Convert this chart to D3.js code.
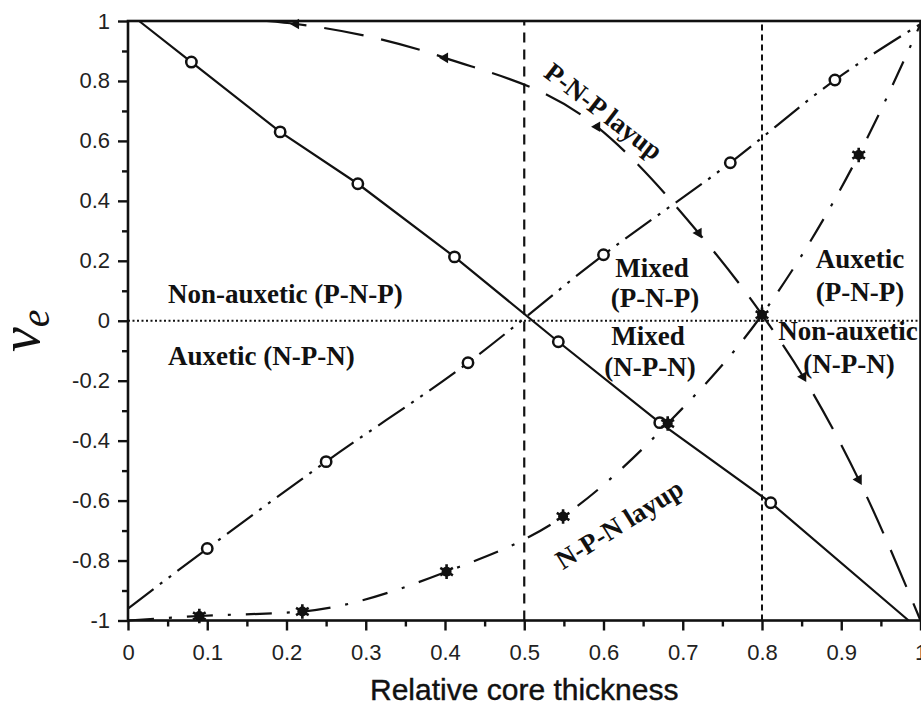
<!DOCTYPE html>
<html>
<head>
<meta charset="utf-8">
<script src="https://cdn.jsdelivr.net/npm/d3@7/dist/d3.min.js"></script>
<style>
    body { margin: 0; background: #fff; }
    svg { display: block; }
    .tick text { font-family: "Liberation Sans", Arial, sans-serif; font-size: 22px; fill: #222; }
    .domain { display: none; }
    .lbl { font-family: "Liberation Serif", "Times New Roman", serif; font-weight: bold; font-size: 27px; fill: #111; }
</style>
</head>
<body>
<svg id="chart" width="921" height="711"></svg>
<script>
// tick values / labels
var xTickValues = [0, 0.1, 0.2, 0.3, 0.4, 0.5, 0.6, 0.7, 0.8, 0.9, 1];
var xTickLabels = ["0", "0.1", "0.2", "0.3", "0.4", "0.5", "0.6", "0.7", "0.8", "0.9", "1"];
var xMinorTicks = [0.05, 0.15, 0.25, 0.35, 0.45, 0.55, 0.65, 0.75, 0.85, 0.95];
var yTickValues = [-1, -0.8, -0.6, -0.4, -0.2, 0, 0.2, 0.4, 0.6, 0.8, 1];
var yTickLabels = ["-1", "-0.8", "-0.6", "-0.4", "-0.2", "0", "0.2", "0.4", "0.6", "0.8", "1"];
var yMinorTicks = [-0.9, -0.7, -0.5, -0.3, -0.1, 0.1, 0.3, 0.5, 0.7, 0.9];

// solid line, open circles
var linearX = [0.014, 0.08, 0.192, 0.29, 0.412, 0.543, 0.671, 0.811, 0.985];
var linearY = [1, 0.863, 0.63, 0.457, 0.213, -0.07, -0.34, -0.607, -1];
var linearMarks = [1, 2, 3, 4, 5, 6, 7];

// rising dash-dot-dot, open circles
var riseX = [0, 0.1, 0.25, 0.429, 0.6, 0.76, 0.892, 1.0];
var riseY = [-0.96, -0.76, -0.47, -0.14, 0.22, 0.527, 0.803, 0.99];
var riseMarks = [1, 2, 3, 4, 5, 6];

// P-N-P layup, long dash, triangles
var pnpX = [0.175, 0.212, 0.40, 0.592, 0.72, 0.80, 0.852, 0.922, 1.0];
var pnpY = [1.0, 0.99, 0.877, 0.647, 0.293, 0.02, -0.187, -0.53, -1.0];
var pnpMarks = [1, 2, 3, 4, 6, 7];

// N-P-N layup, dash-dot, stars
var npnX = [0, 0.09, 0.22, 0.402, 0.549, 0.681, 0.80, 0.922, 1.0];
var npnY = [-1.0, -0.985, -0.97, -0.837, -0.653, -0.343, 0.02, 0.553, 0.99];
var npnMarks = [1, 2, 3, 4, 5, 6, 7];

var svg = d3.select("#chart");
var margin = {top: 21, left: 128};
var width = 792.5, height = 599.5;

var x = d3.scaleLinear().domain([0, 1]).range([margin.left, margin.left + width]);
var y = d3.scaleLinear().domain([-1, 1]).range([margin.top + height, margin.top]);

// reference lines
svg.append("line")
    .attr("x1", x(0)).attr("x2", x(1)).attr("y1", y(0)).attr("y2", y(0))
    .attr("stroke", "#111").attr("stroke-width", 2).attr("stroke-dasharray", "2,2.5");
svg.append("line")
    .attr("x1", x(0.5)).attr("x2", x(0.5)).attr("y1", y(-1)).attr("y2", y(1))
    .attr("stroke", "#111").attr("stroke-width", 2.2).attr("stroke-dasharray", "10,7");
svg.append("line")
    .attr("x1", x(0.8)).attr("x2", x(0.8)).attr("y1", y(-1)).attr("y2", y(1))
    .attr("stroke", "#111").attr("stroke-width", 2).attr("stroke-dasharray", "6,4");

function drawSeries(xs, ys, dash, curve) {
    var pts = xs.map(function(d, i) { return [d, ys[i]]; });
    svg.append("path")
        .datum(pts)
        .attr("fill", "none")
        .attr("stroke", "#111")
        .attr("stroke-width", 2.2)
        .attr("stroke-dasharray", dash)
        .attr("d", d3.line()
            .x(function(d) { return x(d[0]); })
            .y(function(d) { return y(d[1]); })
            .curve(curve));
    return pts;
}

var linPts = drawSeries(linearX, linearY, null, d3.curveLinear);
var risePts = drawSeries(riseX, riseY, "32,8,3,8,3,8", d3.curveMonotoneX);
var pnpPts = drawSeries(pnpX, pnpY, "40,18", d3.curveMonotoneX);
var npnPts = drawSeries(npnX, npnY, "26,15,3,15", d3.curveMonotoneX);

function circles(pts, idx) {
    svg.append("g").selectAll("circle")
        .data(idx.map(function(i) { return pts[i]; })).enter()
        .append("circle")
        .attr("cx", function(d) { return x(d[0]); })
        .attr("cy", function(d) { return y(d[1]); })
        .attr("r", 5.2)
        .attr("fill", "#fff")
        .attr("stroke", "#111")
        .attr("stroke-width", 2.5);
}
circles(linPts, linearMarks);
circles(risePts, riseMarks);

svg.append("g").selectAll("path")
    .data(pnpMarks.map(function(i) { return pnpPts[i]; })).enter()
    .append("path")
    .attr("d", d3.symbol().type(d3.symbolTriangle).size(48))
    .attr("transform", function(d) { return "translate(" + x(d[0]) + "," + y(d[1]) + ") rotate(-90)"; })
    .attr("fill", "#111");

// star markers: filled blob with short spikes
var stars = svg.append("g").selectAll("g")
    .data(npnMarks.map(function(i) { return npnPts[i]; })).enter()
    .append("g")
    .attr("transform", function(d) { return "translate(" + x(d[0]) + "," + y(d[1]) + ")"; });
stars.append("circle").attr("r", 5).attr("fill", "#111");
stars.append("path")
    .attr("d", d3.symbol().type(d3.symbolAsterisk).size(150))
    .attr("fill", "none")
    .attr("stroke", "#111")
    .attr("stroke-width", 2.6);

// frame
svg.append("rect")
    .attr("x", x(0)).attr("y", y(1))
    .attr("width", width).attr("height", height)
    .attr("fill", "none").attr("stroke", "#111").attr("stroke-width", 2.6);

// axes
svg.append("g")
    .attr("transform", "translate(0," + y(-1) + ")")
    .call(d3.axisBottom(x).tickValues(xTickValues)
        .tickFormat(function(d, i) { return xTickLabels[i]; })
        .tickSize(10).tickPadding(14));
svg.append("g")
    .attr("transform", "translate(0," + y(-1) + ")")
    .call(d3.axisBottom(x).tickValues(xMinorTicks).tickFormat("").tickSize(6));

svg.append("g")
    .attr("transform", "translate(" + x(0) + ",0)")
    .call(d3.axisLeft(y).tickValues(yTickValues)
        .tickFormat(function(d, i) { return yTickLabels[i]; })
        .tickSize(10).tickPadding(8));
svg.append("g")
    .attr("transform", "translate(" + x(0) + ",0)")
    .call(d3.axisLeft(y).tickValues(yMinorTicks).tickFormat("").tickSize(6));

svg.selectAll(".tick line").attr("stroke", "#111").attr("stroke-width", 2.4);

// axis titles
svg.append("text")
    .attr("x", x(0.5)).attr("y", 700)
    .attr("text-anchor", "middle")
    .style("font-family", "Liberation Sans, Arial, sans-serif")
    .style("font-size", "30px")
    .style("fill", "#111")
    .style("stroke", "#111").style("stroke-width", 0.4)
    .text("Relative core thickness");

var yl = svg.append("text")
    .attr("transform", "translate(39,352) rotate(-90)")
    .style("font-family", "Liberation Serif, Times New Roman, serif")
    .style("font-style", "italic")
    .style("fill", "#111");
yl.append("tspan").style("font-size", "56px").text("ν");
yl.append("tspan").style("font-size", "40px").attr("dy", 10).text("e");

// region annotations
function note(txt, px, py, anchor) {
    svg.append("text").attr("class", "lbl")
        .attr("x", px).attr("y", py)
        .attr("text-anchor", anchor || "middle")
        .text(txt);
}
note("Non-auxetic (P-N-P)", 168, 303, "start");
note("Auxetic (N-P-N)", 168, 365, "start");
note("Mixed", 652, 277);
note("(P-N-P)", 655, 307);
note("Mixed", 648, 345);
note("(N-P-N)", 650, 376);
note("Auxetic", 860, 268);
note("(P-N-P)", 860, 301);
note("Non-auxetic", 848, 340);
note("(N-P-N)", 849, 373);

svg.append("text").attr("class", "lbl")
    .attr("transform", "translate(604,111) rotate(37.5)")
    .attr("text-anchor", "middle").attr("dy", "0.35em")
    .text("P-N-P layup");
svg.append("text").attr("class", "lbl")
    .attr("transform", "translate(619,524) rotate(-32)")
    .attr("text-anchor", "middle").attr("dy", "0.35em")
    .text("N-P-N layup");
</script>
</body>
</html>
